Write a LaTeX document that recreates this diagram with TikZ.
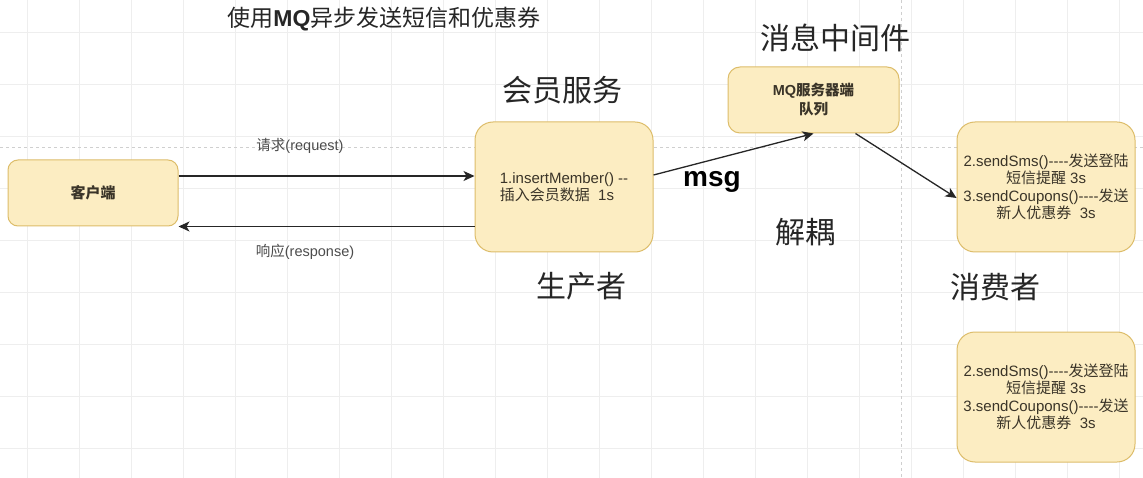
\documentclass[tikz,border=0pt]{standalone}
\usepackage{fontspec}
\setmainfont{Liberation Sans}[Ligatures=TeXOff]
\newfontfamily\cjk{Noto Sans CJK SC}
\usetikzlibrary{arrows.meta}
\definecolor{boxfill}{HTML}{FCEDC2}
\definecolor{boxline}{HTML}{DDBD6A}
\definecolor{gridc}{HTML}{EEEEEE}
\definecolor{pagec}{HTML}{CFCFCF}
\definecolor{boxtext}{HTML}{3A3428}
\newcommand\zh[1]{{\cjk #1}}
\begin{document}
\begin{tikzpicture}[x=1pt,y=-1pt,
  box/.style={draw=boxline, fill=boxfill, line width=1pt, rounded corners=#1, inner sep=0pt,
    text=boxtext, align=center, font=\fontsize{15}{17.5}\selectfont},
  box/.default=12pt,
  head/.style={text=black!85, font=\cjk\fontsize{30}{32}\selectfont},
  lab/.style={text=black!70, font=\fontsize{14.5}{16}\selectfont},
  flow/.style={draw=black!85, line width=1.3pt, -{Stealth[length=11pt,width=10pt,inset=3pt]}},
  gridline/.style={draw=gridc, line width=0.8pt},
  pageline/.style={draw=pagec, line width=0.8pt, dashed}]
\useasboundingbox[fill=white] (0,0) rectangle (1143,478);
\foreach \gx in {27,79,...,1143} \draw[gridline] (\gx,0) -- (\gx,478);
\foreach \gy in {32,84,...,478} \draw[gridline] (0,\gy) -- (1143,\gy);
\draw[pageline] (0,147) -- (1143,147);
\draw[pageline] (901,0) -- (901,478);
\node[font=\cjk\fontsize{23}{25}\selectfont, text=black!85] (title) at (384,19) {使用{\rmfamily\bfseries MQ}异步发送短信和优惠券};
\node[box=10pt, minimum width=170pt, minimum height=66pt, font=\bfseries\fontsize{15}{17.5}\selectfont] (client) at (93,193) {\zh{客户端}};
\node[box=18pt, minimum width=178pt, minimum height=130pt, align=left, font=\fontsize{15}{17}\selectfont] (member) at (564,187) {1.insertMember() --\\\zh{插入会员数据}\ \ 1s};
\node[box=12pt, minimum width=171pt, minimum height=66pt, font=\bfseries\fontsize{14.5}{19}\selectfont] (mq) at (813.5,100) {MQ\zh{服务器端}\\\zh{队列}};
\node[box=18pt, minimum width=178pt, minimum height=130pt] (consA) at (1046,187) {2.sendSms()----\zh{发送登陆}\\\zh{短信提醒} 3s\\3.sendCoupons()----\zh{发送}\\\zh{新人优惠券}\ \ 3s};
\node[box=18pt, minimum width=178pt, minimum height=130pt] (consB) at (1046,397) {2.sendSms()----\zh{发送登陆}\\\zh{短信提醒} 3s\\3.sendCoupons()----\zh{发送}\\\zh{新人优惠券}\ \ 3s};
\node[head] (memberhead) at (562,90) {会员服务};
\node[head] (mqhead) at (835,38) {消息中间件};
\node[head] (producer) at (581,286) {生产者};
\node[head] (consumer) at (995,287) {消费者};
\node[head] (decouple) at (805,232) {解耦};
\node[lab] (reqlab) at (300,146) {\zh{请求}(request)};
\node[lab] (reslab) at (305,252) {\zh{响应}(response)};
\node[anchor=base, font=\bfseries\fontsize{28}{30}\selectfont] (msg) at (712,187) {msg};
\draw[flow] ([yshift=17pt]client.east) -- ([yshift=11pt]member.west);
\draw[flow] (member.west |- client.south east) -- (client.south east);
\draw[flow] ([yshift=12pt]member.east) -- (mq.south);
\draw[flow] ([xshift=42pt]mq.south) -- ([yshift=-11pt]consA.west);
\end{tikzpicture}
\end{document}
